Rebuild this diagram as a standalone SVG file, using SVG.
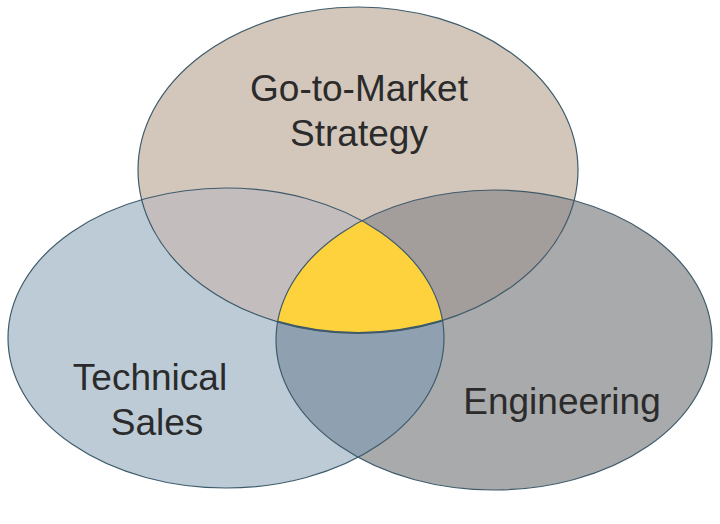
<svg xmlns="http://www.w3.org/2000/svg" width="720" height="524" viewBox="0 0 720 524">
<style>
.o{fill:none;stroke:#3f5b6b;stroke-width:1.2}
text{font-family:"Liberation Sans",Arial,sans-serif;font-size:37px;fill:#2b2b2b;text-anchor:middle}
</style>
<defs>
<clipPath id="cT"><ellipse cx="358" cy="170" rx="220" ry="163"/></clipPath>
<clipPath id="cL"><ellipse cx="226" cy="338" rx="218" ry="150"/></clipPath>
<clipPath id="cR"><ellipse cx="494" cy="340" rx="218" ry="150"/></clipPath>
</defs>
<g id="fills">
<ellipse cx="226" cy="338" rx="218" ry="150" fill="#bccbd6"/>
<ellipse cx="494" cy="340" rx="218" ry="150" fill="#a9aaab"/>
<ellipse cx="358" cy="170" rx="220" ry="163" fill="#d3c7bb"/>
<g clip-path="url(#cL)"><ellipse cx="358" cy="170" rx="220" ry="163" fill="#c3bebd"/><ellipse cx="494" cy="340" rx="218" ry="150" fill="#8fa1b1"/></g>
<g clip-path="url(#cR)"><ellipse cx="358" cy="170" rx="220" ry="163" fill="#a39d9b"/></g>
</g>
<g id="center"><g clip-path="url(#cL)"><g clip-path="url(#cR)"><ellipse cx="358" cy="170" rx="220" ry="163" fill="#fdd23c" stroke="#3f5b6b" stroke-width="2"/></g></g></g>
<g id="outlines">
<ellipse class="o" cx="226" cy="338" rx="218" ry="150"/>
<ellipse class="o" cx="494" cy="340" rx="218" ry="150"/>
<ellipse class="o" cx="358" cy="170" rx="220" ry="163"/>
</g>
<g id="gtm"><text x="359" y="101">Go-to-Market</text><text x="359" y="146">Strategy</text></g>
<g id="ts"><text x="150" y="390">Technical</text><text x="157" y="435">Sales</text></g>
<g id="eng"><text x="562" y="414">Engineering</text></g>
</svg>
